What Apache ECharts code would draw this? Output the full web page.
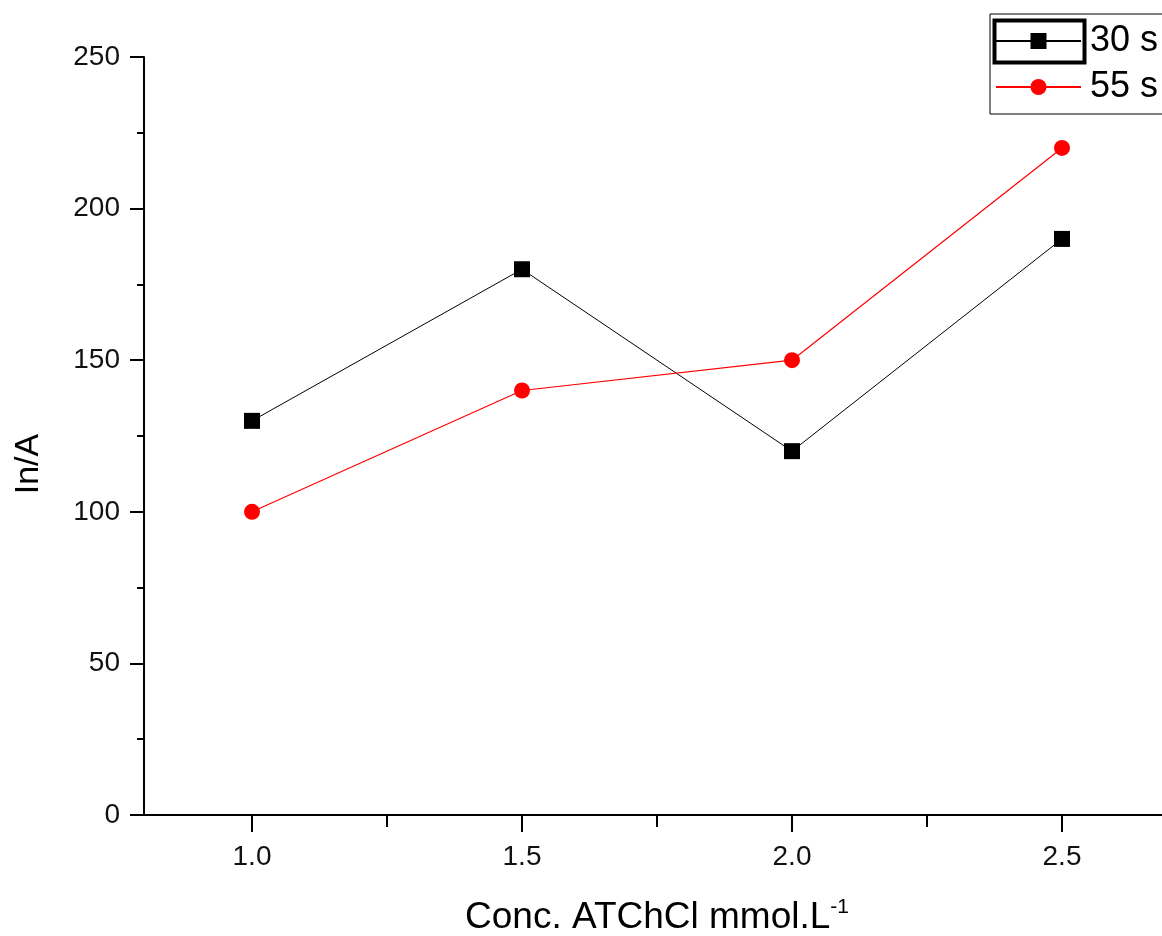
<!DOCTYPE html>
<html>
<head>
<meta charset="utf-8">
<script src="https://cdn.jsdelivr.net/npm/echarts@6/dist/echarts.min.js"></script>
<style>
  html, body { margin: 0; padding: 0; background: #fff; }
  #chart { width: 1162px; height: 936px; }
</style>
</head>
<body>
<div id="chart"></div>
<script>
// concentration of ATChCl (mmol/L)
var concentrations = [1.0, 1.5, 2.0, 2.5]
// current In/A at the two times
var current30s = [130, 180, 120, 190]
var current55s = [100, 140, 150, 220]
var seriesNames = ['30 s', '55 s']
var xMajorTicks = [1.0, 1.5, 2.0, 2.5]
var xMinorTicks = [1.25, 1.75, 2.25]

var font = 'Liberation Sans, Arial, sans-serif'

function pairs(ys) {
  var out = []
  for (var i = 0; i < concentrations.length; i++) {
    out.push([concentrations[i], ys[i]])
  }
  return out
}

var chart = echarts.init(document.getElementById('chart'))
chart.setOption({
  backgroundColor: '#fff',
  animation: false,
  textStyle: { fontFamily: font },
  grid: {
    left: 144,
    top: 57,
    bottom: 121,
    width: 1026,
    containLabel: false,
    outerBoundsMode: 'none'
  },
  legend: {
    left: 990,
    top: 14,
    orient: 'vertical',
    padding: [9, 40, 9, 5],
    itemGap: 10,
    itemWidth: 85,
    itemHeight: 20,
    borderColor: '#000',
    borderWidth: 1,
    data: seriesNames,
    textStyle: { fontSize: 36, color: '#000', fontFamily: font, lineHeight: 36, padding: [0, 0, 0, 4] }
  },
  xAxis: [{
    type: 'value',
    min: 0.8,
    max: 2.7,
    position: 'bottom',
    name: 'Conc. ATChCl mmol.L{sup|-1}',
    nameLocation: 'middle',
    nameGap: 82,
    nameTextStyle: {
      fontSize: 37,
      color: '#000',
      fontFamily: font,
      rich: {
        sup: { fontSize: 21, color: '#000', fontFamily: font, padding: [0, 0, 20, 0] }
      }
    },
    axisLine: { show: true, lineStyle: { color: '#000', width: 2 } },
    axisTick: {
      show: true,
      length: 17,
      customValues: xMajorTicks,
      lineStyle: { color: '#000', width: 2 }
    },
    axisLabel: {
      show: true,
      fontSize: 28,
      color: '#111',
      margin: 28,
      customValues: xMajorTicks,
      formatter: function (v) { return v.toFixed(1) }
    },
    splitLine: { show: false }
  }, {
    type: 'value',
    min: 0.8,
    max: 2.7,
    position: 'bottom',
    axisLine: { show: false },
    axisTick: {
      show: true,
      length: 12,
      customValues: xMinorTicks,
      lineStyle: { color: '#000', width: 2 }
    },
    axisLabel: { show: false },
    splitLine: { show: false }
  }],
  yAxis: {
    type: 'value',
    min: 0,
    max: 250,
    interval: 50,
    name: 'In/A',
    nameLocation: 'middle',
    nameGap: 98,
    nameTextStyle: { fontSize: 34, color: '#000', fontFamily: font, padding: [0, 56, 0, 0] },
    axisLine: { show: true, lineStyle: { color: '#000', width: 2 } },
    axisTick: { show: true, length: 14, lineStyle: { color: '#000', width: 2 } },
    minorTick: { show: true, splitNumber: 2, length: 7, lineStyle: { color: '#000', width: 2 } },
    axisLabel: { fontSize: 28, color: '#111', margin: 24 },
    splitLine: { show: false },
    minorSplitLine: { show: false }
  },
  series: [{
    name: seriesNames[0],
    type: 'line',
    data: pairs(current30s),
    symbol: 'rect',
    symbolSize: 16,
    color: '#000',
    lineStyle: { color: '#000', width: 1 },
    itemStyle: { color: '#000' }
  }, {
    name: seriesNames[1],
    type: 'line',
    data: pairs(current55s),
    symbol: 'circle',
    symbolSize: 16,
    color: '#ff0000',
    lineStyle: { color: '#ff0000', width: 1.2 },
    itemStyle: { color: '#ff0000' }
  }],
  graphic: [{
    type: 'rect',
    left: 992,
    top: 18,
    shape: { width: 90, height: 42 },
    style: { fill: 'none', stroke: '#000', lineWidth: 4 },
    z: 100
  }]
})
</script>
</body>
</html>
